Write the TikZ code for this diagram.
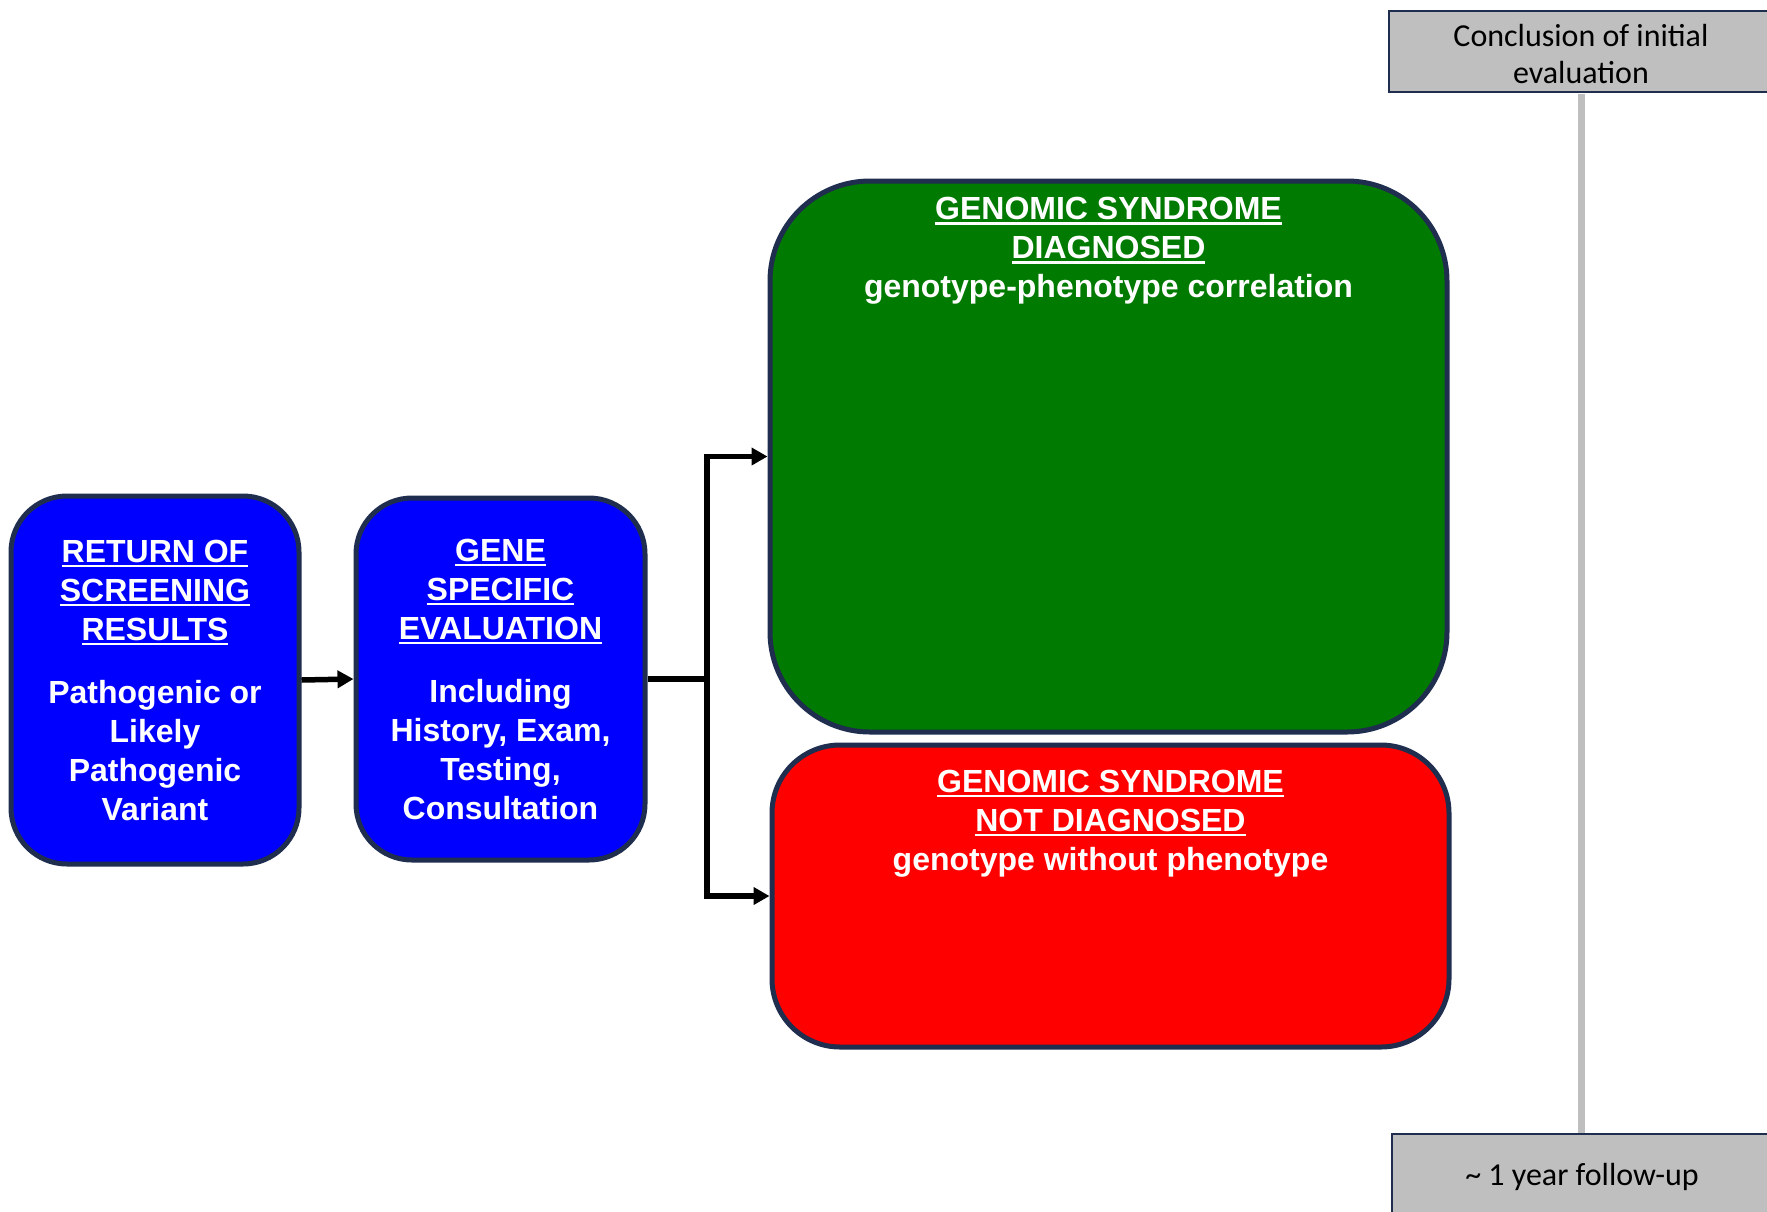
\documentclass[tikz,border=0pt]{standalone}
\usepackage{fontspec}
\setmainfont{Liberation Sans}
\newfontfamily\calibrifont{Carlito}
\usetikzlibrary{arrows.meta}
\definecolor{navyline}{HTML}{1F2D4E}
\definecolor{boxblue}{HTML}{0000FF}
\definecolor{boxgreen}{HTML}{007A00}
\definecolor{boxred}{HTML}{FF0000}
\definecolor{railgray}{HTML}{BFBFBF}
% underlined heading word group
\newcommand\ulbox[1]{\setbox0\hbox{#1}\rlap{\rule[-5pt]{\wd0}{2.5pt}}\box0}
% invisible strut that lowers a marker text slightly
\newcommand\lowerstrut{\rule{0pt}{26.5pt}}
\begin{document}
\begin{tikzpicture}[x=1pt,y=-1pt,
  card/.style={draw=navyline, line width=5pt, text=white, align=center, inner sep=0pt,
    font=\bfseries\fontsize{32}{39}\selectfont},
  stagebox/.style={card, fill=boxblue, rounded corners=56pt},
  caption/.style={text=white, align=center, inner sep=0pt, anchor=north,
    font=\bfseries\fontsize{32}{39}\selectfont},
  flow/.style={-{Triangle[length=16pt,width=17pt]}, line width=5.5pt, black},
  marker/.style={draw=navyline, line width=2.5pt, fill=railgray, inner sep=0pt,
    font=\calibrifont\fontsize{32}{37}\selectfont, align=center},
  rail/.style={draw=railgray, line width=7pt},
]
\useasboundingbox (0,0) rectangle (1767,1211);
\clip (0,0) rectangle (1767,1211);

% timeline markers
\node[marker, minimum width=384pt, minimum height=81pt] (concl) at (1581,51.5)
  {\lowerstrut Conclusion of initial\\evaluation};
\node[marker, minimum width=380pt, minimum height=82pt] (followup) at (1582,1175)
  {\lowerstrut\textasciitilde\ 1 year follow-up};
\draw[rail] ([yshift=-1pt]concl.south) -- (concl.south |- followup.north);

% evaluation stages
\node[stagebox, minimum width=288pt, minimum height=368pt] (ret) at (155,680)
  {\ulbox{RETURN OF}\\\ulbox{SCREENING}\\\ulbox{RESULTS}\\[24pt]
   Pathogenic or\\Likely\\Pathogenic\\Variant};
\node[stagebox, minimum width=289pt, minimum height=362pt] (gse) at (500.5,679)
  {\ulbox{GENE}\\\ulbox{SPECIFIC}\\\ulbox{EVALUATION}\\[24pt]
   Including\\History, Exam,\\Testing,\\Consultation};

% outcomes
\node[card, fill=boxgreen, rounded corners=100pt, minimum width=677pt, minimum height=551pt]
  (diag) at (1108.5,456.5) {};
\node[card, fill=boxred, rounded corners=68pt, minimum width=677pt, minimum height=302pt]
  (ndiag) at (1110.5,896) {};
\node[caption] (diagtext) at (1108.5,197)
  {\ulbox{GENOMIC SYNDROME}\\\ulbox{DIAGNOSED}\\genotype-phenotype correlation};
\node[caption] (ndiagtext) at (1110.5,769.5)
  {\ulbox{GENOMIC SYNDROME}\\\ulbox{NOT DIAGNOSED}\\genotype without phenotype};

% connectors
\coordinate (split) at (707,679);
\draw[flow] (ret.east) -- (gse.west);
\draw[flow] (gse.east) -- (split) |- (diag.west);
\draw[flow] (split) |- (ndiag.west);
\end{tikzpicture}
\end{document}
